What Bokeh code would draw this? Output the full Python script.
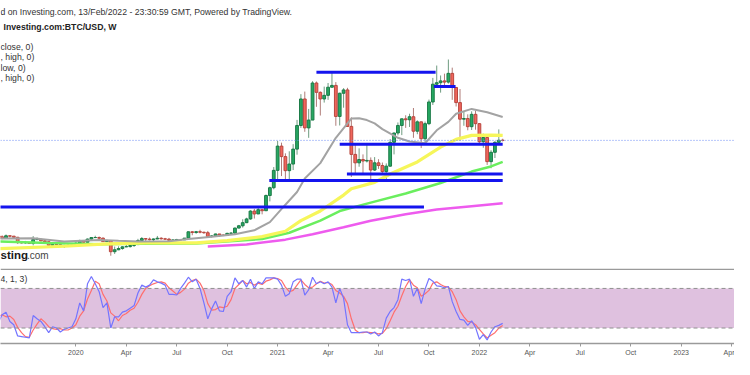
import pandas as pd
from bokeh.plotting import figure
from bokeh.layouts import column
from bokeh.models import (Range1d, Span, BoxAnnotation, Label, FixedTicker,
                          ColumnDataSource)
from bokeh.embed import file_html
from bokeh.resources import INLINE

# ---------------- data (weekly BTC/USD candles, weeks starting Sunday) ----------------
first_week = "2019-08-18"
opens = [10360, 10140, 9600, 10480, 10360, 9980, 8210, 8150, 8280, 7960,
         9240, 9310, 8800, 8500, 7320, 7560, 7500, 7080, 7150, 7290,
         7350, 8030, 8900, 8340, 9380, 9890, 9900, 9680, 8550, 8900,
         5200, 5830, 6250, 6800, 6890, 7250, 7550, 8900, 9550, 9380,
         9180, 9420, 9670, 9470, 9360, 9000, 9070, 9240, 9160, 9700,
         11800, 11580, 11840, 11660, 11500, 10260, 10440, 11080, 10730, 10580,
         11290, 11360, 13040, 13800, 14830, 16070, 18680, 17730, 19150, 18800,
         23850, 26440, 32200, 40250, 36770, 32100, 34300, 39250, 47100, 55900,
         46300, 48900, 61200, 58100, 55900, 57100, 59800, 60400, 50100, 57800,
         58900, 46800, 37500, 34700, 35800, 35300, 35500, 32300, 34700, 33800,
         31800, 33600, 41500, 44600, 47100, 49300, 49000, 50000, 45200, 48300,
         42700, 47700, 54900, 60800, 61300, 61900, 61500, 64400, 59700, 54700,
         49200, 49400, 46700, 50800, 47700, 41700, 43100, 35100, 38200, 41500,
         42200]
highs = [10950, 10630, 10920, 10580, 10360, 10120, 8520, 8780, 8410, 10370,
         9950, 9500, 9110, 8600, 7830, 7750, 7650, 7520, 7690, 7520,
         8470, 9190, 9000, 9570, 9950, 10500, 10250, 9960, 9190, 8900,
         6900, 6980, 7000, 7470, 7290, 7720, 9470, 10070, 9590, 9900,
         9600, 10420, 9990, 9790, 9780, 9320, 9470, 9340, 9720, 11900,
         12060, 12090, 12470, 11800, 12090, 10640, 11180, 11100, 10950, 11490,
         11730, 13200, 14090, 15960, 16480, 18960, 19400, 19900, 19400, 24200,
         26800, 33300, 41950, 41400, 37850, 38530, 40900, 48950, 57500, 58350,
         52600, 61800, 61700, 58400, 60000, 61200, 64900, 61500, 58000, 59500,
         59600, 49800, 40900, 39500, 37500, 41300, 36500, 36600, 35900, 34800,
         34500, 42600, 44700, 48100, 49400, 50500, 51000, 52900, 48800, 48400,
         48400, 55700, 62900, 67000, 63700, 64300, 69000, 66300, 59900, 59200,
         51900, 50800, 51800, 52000, 47900, 44400, 43500, 38900, 41900, 45800,
         42700]
lows = [9850, 9320, 9570, 9900, 9860, 7780, 7900, 7790, 7900, 7300,
        8970, 8700, 8400, 6790, 6530, 7150, 7070, 6440, 7130, 6880,
        7330, 8000, 8240, 8300, 9100, 9730, 9300, 8450, 8450, 3860,
        4450, 5700, 5860, 6720, 6580, 6770, 7540, 8700, 8120, 8930,
        8700, 9360, 9250, 9230, 8850, 8960, 8930, 9060, 9120, 9650,
        10650, 11130, 11290, 11120, 9880, 9900, 10250, 10140, 10380, 10530,
        11200, 11330, 12950, 13200, 14700, 15800, 16200, 17700, 17600, 18800,
        21900, 25900, 29000, 30300, 28850, 29300, 32300, 37400, 46300, 45000,
        43000, 48900, 53300, 50400, 54700, 55600, 59700, 47000, 47100, 53000,
        46600, 30000, 31100, 33400, 31000, 34800, 28800, 32000, 32700, 31100,
        29300, 33400, 37500, 43800, 43900, 46300, 46600, 43000, 44200, 39600,
        40800, 47200, 53900, 59600, 58000, 60000, 61000, 55600, 53400, 42000,
        47000, 45500, 45600, 45700, 40600, 39700, 34000, 32900, 36300, 41100,
        41800]
closes = [10140, 9600, 10480, 10360, 9980, 8210, 8150, 8280, 7960, 9240,
          9310, 8800, 8500, 7320, 7560, 7500, 7080, 7150, 7290, 7350,
          8030, 8900, 8340, 9380, 9890, 9900, 9680, 8550, 8900, 5200,
          5830, 6250, 6800, 6890, 7250, 7550, 8900, 9550, 9380, 9180,
          9420, 9670, 9470, 9360, 9000, 9070, 9240, 9160, 9700, 11800,
          11580, 11840, 11660, 11500, 10260, 10440, 11080, 10730, 10580, 11290,
          11360, 13040, 13800, 14830, 16070, 18680, 17730, 19150, 18800, 23850,
          26440, 32200, 40250, 36770, 32100, 34300, 39250, 47100, 55900, 46300,
          48900, 61200, 58100, 55900, 57100, 59800, 60400, 50100, 57800, 58900,
          46800, 37500, 34700, 35800, 35300, 35500, 32300, 34700, 33800, 31800,
          33600, 41500, 44600, 47100, 49300, 49000, 50000, 45200, 48300, 42700,
          47700, 54900, 60800, 61300, 61900, 61500, 64400, 59700, 54700, 49200,
          49400, 46700, 50800, 47700, 41700, 43100, 35100, 38200, 41500, 42200,
          42150]
last_price = 42150

# moving averages
ma20_dates = ["2019-08-18", "2019-10-20", "2019-12-15", "2020-02-16", "2020-03-22",
              "2020-04-26", "2020-06-21", "2020-07-26", "2020-09-06", "2020-10-18",
              "2020-11-22", "2020-12-20", "2021-01-17", "2021-02-07", "2021-02-21",
              "2021-03-21", "2021-04-18", "2021-05-09", "2021-05-16", "2021-05-30",
              "2021-06-13", "2021-06-27", "2021-07-11", "2021-08-08", "2021-08-29",
              "2021-09-26", "2021-10-17", "2021-11-07", "2021-11-21", "2021-12-19",
              "2022-01-16", "2022-02-13"]
ma20_vals = [9600, 9700, 8600, 9100, 8800, 8600, 8700, 9400, 10200, 11000,
             12300, 15000, 20800, 25000, 29500, 34600, 43000, 47800, 49400, 49500,
             48900, 47800, 45900, 43000, 41800, 41200, 45500, 48300, 51000, 52600,
             51500, 49900]
ma50_dates = ["2019-08-18", "2019-12-15", "2020-03-01", "2020-05-10", "2020-08-09",
              "2020-10-04", "2020-12-06", "2021-01-17", "2021-02-14", "2021-03-21",
              "2021-05-02", "2021-05-16", "2021-06-27", "2021-07-25", "2021-09-12",
              "2021-10-24", "2021-11-21", "2021-12-19", "2022-01-23", "2022-02-13"]
ma50_vals = [6200, 7000, 7800, 8100, 8100, 8900, 10200, 12000, 15500, 18700,
             24000, 26100, 28200, 31000, 35000, 39900, 42500, 43800, 43900, 43800]
ma100_dates = ["2019-08-18", "2019-11-17", "2020-02-16", "2020-04-26", "2020-08-09",
               "2020-12-06", "2021-01-24", "2021-03-21", "2021-04-25", "2021-06-20",
               "2021-08-22", "2021-10-24", "2021-12-19", "2022-01-23", "2022-02-13"]
ma100_vals = [8600, 8100, 7700, 7800, 7900, 9400, 11500, 15500, 18700, 21500,
              24500, 28000, 31800, 33500, 35000]
ma200_dates = ["2020-08-30", "2020-11-08", "2021-01-17", "2021-03-07", "2021-05-02",
               "2021-06-20", "2021-08-22", "2021-10-17", "2021-12-19", "2022-02-13"]
ma200_vals = [6900, 7600, 9200, 11000, 13300, 15500, 17600, 19200, 20300, 21300]

# horizontal levels drawn on the chart
lvl_price = [20000, 64800, 60000, 40900, 31000, 28800]
lvl_start = ["2019-06-01", "2021-03-14", "2021-10-12", "2021-04-25", "2021-05-08", "2020-12-19"]
lvl_end = ["2021-09-24", "2021-10-15", "2021-11-20", "2022-02-13", "2022-02-13", "2022-02-13"]

# Stochastic RSI (K blue, D red), one value per weekly bar
stoch_k = [28, 40, 44, 30, 25, 8, 7, 6, 5, 39,
           34, 30, 22, 13, 22, 20, 14, 18, 20, 22,
           34, 58, 46, 87, 98, 87, 75, 51, 58, 20,
           37, 37, 44, 46, 50, 54, 73, 85, 82, 85,
           93, 90, 88, 85, 71, 71, 70, 80, 88, 97,
           90, 94, 80, 58, 34, 49, 61, 46, 45, 68,
           75, 96, 87, 92, 82, 94, 80, 90, 87, 96,
           96, 96, 94, 85, 68, 72, 90, 94, 94, 70,
           78, 97, 87, 90, 87, 90, 82, 58, 80, 65,
           25, 13, 13, 13, 14, 14, 11, 14, 8, 13,
           35, 45, 51, 63, 94, 92, 94, 68, 80, 57,
           79, 95, 91, 84, 83, 81, 83, 60, 45, 33,
           32, 24, 31, 21, 3, 10, 2, 14, 22, 24,
           27]
stoch_d = [38, 40, 37, 38, 33, 21, 13, 7, 6, 17,
           26, 34, 29, 22, 19, 18, 19, 17, 17, 20,
           25, 38, 46, 64, 77, 91, 87, 71, 61, 43,
           38, 31, 39, 42, 47, 50, 59, 71, 80, 84,
           87, 89, 90, 88, 81, 76, 71, 74, 79, 88,
           92, 94, 88, 77, 57, 47, 48, 52, 51, 53,
           63, 80, 86, 92, 87, 89, 85, 88, 86, 91,
           93, 96, 95, 92, 82, 75, 77, 85, 93, 86,
           81, 82, 87, 91, 88, 89, 86, 77, 73, 68,
           57, 34, 17, 13, 13, 14, 13, 13, 11, 12,
           19, 31, 44, 53, 69, 83, 93, 85, 81, 68,
           72, 77, 88, 90, 86, 83, 82, 75, 63, 46,
           37, 30, 29, 25, 18, 11, 5, 9, 13, 20,
           24]
stoch_upper, stoch_lower = 80, 20

tick_dates = ["2020-01-05", "2020-04-05", "2020-07-05", "2020-10-04", "2021-01-03",
              "2021-04-04", "2021-07-04", "2021-10-03", "2022-01-02", "2022-04-03",
              "2022-07-03", "2022-10-02", "2023-01-01", "2023-04-02"]
tick_labels = ["2020", "Apr", "Jul", "Oct", "2021", "Apr", "Jul", "Oct", "2022",
               "Apr", "Jul", "Oct", "2023", "Apr"]

# ---------------- build ----------------
FONT = "Liberation Sans"
W = 734
dates = pd.date_range(first_week, periods=len(opens), freq="7D")
up = [c >= o for o, c in zip(opens, closes)]
src = ColumnDataSource(dict(
    date=dates, high=highs, low=lows,
    top=[max(o, c) for o, c in zip(opens, closes)],
    bottom=[min(o, c) for o, c in zip(opens, closes)],
    fill=["#26a862" if u else "#f0665c" for u in up],
    line=["#1c7a47" if u else "#b8463e" for u in up],
    wick=["#6f9c80" if u else "#b07c78" for u in up],
))

x_range = Range1d(start=pd.Timestamp("2019-08-22 01:00"), end=pd.Timestamp("2023-04-07 05:00"))

p = figure(frame_width=W, frame_height=268, x_range=x_range,
           y_range=Range1d(-380, 88590), x_axis_type="datetime",
           x_axis_location=None, y_axis_location=None,
           output_backend="svg", toolbar_location=None, min_border=0)
p.grid.visible = False
p.outline_line_color = None
p.background_fill_color = "white"

bar_w = 5 * 86400000
p.segment(x0="date", y0="high", x1="date", y1="low", line_color="wick",
          line_width=1, source=src)
p.vbar(x="date", width=bar_w, top="top", bottom="bottom", fill_color="fill",
       line_color="line", line_width=1, source=src)

p.line(pd.to_datetime(ma200_dates), ma200_vals, line_color="#ee5bee", line_width=2.5)
p.line(pd.to_datetime(ma100_dates), ma100_vals, line_color="#6aee5e", line_width=2.5)
p.line(pd.to_datetime(ma50_dates), ma50_vals, line_color="#f6f65a", line_width=3.2)
p.line(pd.to_datetime(ma20_dates), ma20_vals, line_color="#a3a3a3", line_width=2)

p.segment(x0=pd.to_datetime(lvl_start), y0=lvl_price, x1=pd.to_datetime(lvl_end),
          y1=lvl_price, line_color="#1414ee", line_width=3)

p.add_layout(Span(location=last_price, dimension="width", line_color="#6f8ef5",
                  line_dash="1 2", line_width=1))

def lab(fig, x, y, text, size, bold=False, color="#333333"):
    fig.add_layout(Label(x=x, y=y, x_units="screen", y_units="screen", text=text,
                         text_font=FONT, text_font_size=size, text_color=color,
                         text_font_style="bold" if bold else "normal",
                         text_baseline="middle", text_align="left"))

lab(p, 0, 256.8, "d on Investing.com, 13/Feb/2022 - 23:30:59 GMT, Powered by TradingView.", "8.7px")
lab(p, 3, 241.9, "Investing.com:BTC/USD, W", "8.7px", bold=True, color="#222222")
lab(p, 0, 221.8, "close, 0)", "8.7px")
lab(p, 0, 211.5, ", high, 0)", "8.7px")
lab(p, 0, 201.0, "low, 0)", "8.7px")
lab(p, 0, 190.5, ", high, 0)", "8.7px")
lab(p, 0, 13.4, "sting", "11.5px", bold=True, color="#1a1a1a")
lab(p, 26.5, 13.0, ".com", "10px", color="#444444")

# ---------------- Stochastic RSI panel ----------------
p2 = figure(frame_width=W, frame_height=75, x_range=x_range,
            y_range=Range1d(-3.45, 110.2), x_axis_type="datetime",
            y_axis_location=None, output_backend="svg", toolbar_location=None,
            min_border=0)
p2.grid.visible = False
p2.outline_line_color = None
p2.add_layout(BoxAnnotation(bottom=stoch_lower, top=stoch_upper, fill_color="#dfc1df",
                            fill_alpha=1.0, line_color=None, level="underlay"))
for lv in (stoch_upper, stoch_lower):
    p2.add_layout(Span(location=lv, dimension="width", line_color="#8f8f8f",
                       line_dash="4 3", line_width=1))
p2.add_layout(Span(location=108.9, dimension="width", line_color="#9a9a9a", line_width=1.5))
p2.line(dates, stoch_d, line_color="#ff6e6e", line_width=1.2)
p2.line(dates, stoch_k, line_color="#7474ff", line_width=1.2)
lab(p2, 0, 64.8, "4, 1, 3)", "8.6px")

tick_ms = [int(pd.Timestamp(d).value // 10**6) for d in tick_dates]
xa = p2.xaxis[0]
xa.ticker = FixedTicker(ticks=tick_ms)
xa.major_label_overrides = {t: l for t, l in zip(tick_ms, tick_labels)}
xa.axis_line_color = "#9a9a9a"
xa.axis_line_width = 1.5
xa.major_tick_line_color = "#9a9a9a"
xa.major_tick_in = 0
xa.major_tick_out = 3
xa.minor_tick_line_color = None
xa.major_label_text_font = FONT
xa.major_label_text_font_size = "7px"
xa.major_label_text_color = "#555555"
xa.major_label_standoff = 2

layout = column(p, p2, spacing=0)
open("out.html", "w").write(file_html(layout, INLINE))
